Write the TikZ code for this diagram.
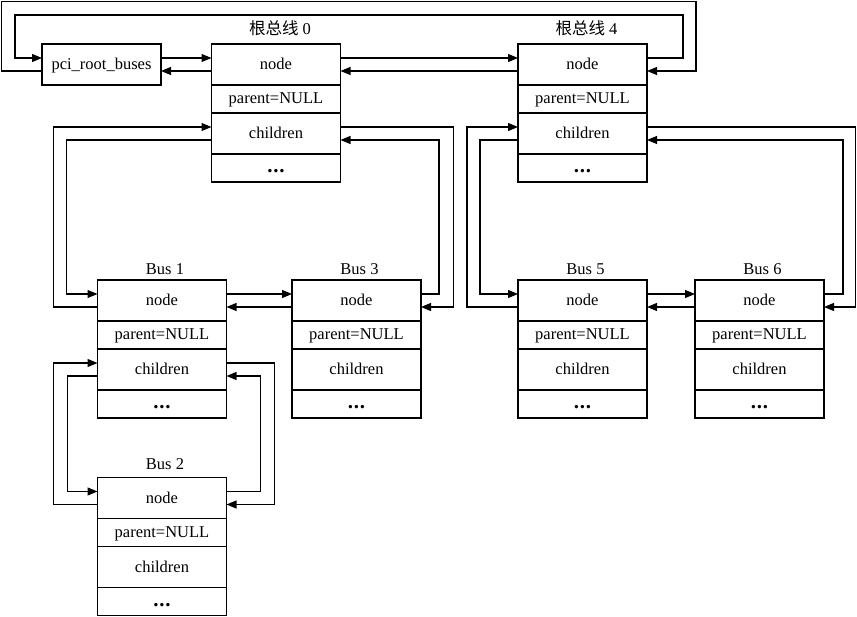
\documentclass[tikz,border=0pt]{standalone}
\usepackage{fontspec}
\setmainfont{Liberation Serif}
\newfontfamily\cjk{Noto Sans CJK SC}
\usetikzlibrary{arrows.meta,calc}

\tikzset{
  fld/.style={draw, line width=1.1pt, minimum width=129pt, inner sep=0pt, outer sep=0pt,
    text height=12.5pt, text depth=2.5pt, font=\fontsize{16.5}{20}\selectfont},
  ttl/.style={anchor=base, inner sep=0pt, font=\fontsize{16.5}{20}\selectfont},
  arr/.style={line width=1.1pt, -{Triangle[length=10pt,width=8pt]}},
}

% one bus structure: four stacked fields
\newcommand\busstruct[3]{%
  \node[fld, minimum height=41pt, anchor=north] (#1n) at (#2,#3) {node};
  \node[fld, minimum height=28pt, anchor=north] (#1p) at (#1n.south) {parent=NULL};
  \node[fld, minimum height=41pt, anchor=north] (#1c) at (#1p.south) {children};
  \node[fld, minimum height=28pt, anchor=north] (#1d) at (#1c.south)
    {\fontsize{21}{20}\selectfont\bfseries .\kern0.8pt.\kern0.8pt.};
}

\begin{document}
\begin{tikzpicture}[x=1pt, y=-1pt]
\useasboundingbox (0,0) rectangle (857,617);

% list head
\node[fld, minimum width=119pt, minimum height=41pt, anchor=north] (pci) at (101.5,44) {pci\_root\_buses};

% root buses
\busstruct{r0}{276}{44}
\busstruct{r4}{582.5}{44}
\node[ttl] (r0t) at ($(r0n.north)+(4,-9)$) {{\cjk 根总线} 0};
\node[ttl] (r4t) at ($(r4n.north)+(4,-9)$) {{\cjk 根总线} 4};

% child buses
\busstruct{b1}{162}{280}
\busstruct{b3}{356.5}{280}
\busstruct{b5}{582.5}{280}
\busstruct{b6}{759.5}{280}
\busstruct{b2}{162}{477.5}
\node[ttl] (b1t) at ($(b1n.north)+(3,-5)$) {Bus 1};
\node[ttl] (b3t) at ($(b3n.north)+(3,-5)$) {Bus 3};
\node[ttl] (b5t) at ($(b5n.north)+(3,-5)$) {Bus 5};
\node[ttl] (b6t) at ($(b6n.north)+(3,-5)$) {Bus 6};
\node[ttl] (b2t) at ($(b2n.north)+(3,-7.5)$) {Bus 2};

% corners of the two loops closing the root list
\coordinate (oA) at (1.5,1.5);
\coordinate (oB) at (696,1.5);
\coordinate (iA) at (683,15);
\coordinate (iB) at (15,15);

% root bus list
\draw[arr] ($(pci.north east)+(0,14)$) -- ($(r0n.north west)+(0,14)$);
\draw[arr] ($(r0n.north west)+(0,27)$) -- ($(pci.north east)+(0,27)$);
\draw[arr] ($(r0n.north east)+(0,14)$) -- ($(r4n.north west)+(0,14)$);
\draw[arr] ($(r4n.north west)+(0,27)$) -- ($(r0n.north east)+(0,27)$);
\draw[arr] ($(pci.north west)+(0,27)$) -| (oA) -- (oB) |- ($(r4n.north east)+(0,27)$);
\draw[arr] ($(r4n.north east)+(0,14)$) -| (iA) -- (iB) |- ($(pci.north west)+(0,14)$);

% children of root bus 0
\draw[arr] ($(r0c.north west)+(0,27)$) -- ++(-145,0) |- ($(b1n.north west)+(0,14)$);
\draw[arr] ($(b1n.north west)+(0,27)$) -- ++(-44,0) |- ($(r0c.north west)+(0,14)$);
\draw[arr] ($(r0c.north east)+(0,14)$) -- ++(113,0) |- ($(b3n.north east)+(0,27)$);
\draw[arr] ($(b3n.north east)+(0,14)$) -- ++(18,0) |- ($(r0c.north east)+(0,27)$);
\draw[arr] ($(b1n.north east)+(0,14)$) -- ($(b3n.north west)+(0,14)$);
\draw[arr] ($(b3n.north west)+(0,27)$) -- ($(b1n.north east)+(0,27)$);

% children of bus 1
\draw[arr] ($(b1c.north west)+(0,27)$) -- ++(-30,0) |- ($(b2n.north west)+(0,14)$);
\draw[arr] ($(b2n.north west)+(0,27)$) -- ++(-44,0) |- ($(b1c.north west)+(0,14)$);
\draw[arr] ($(b1c.north east)+(0,14)$) -- ++(48,0) |- ($(b2n.north east)+(0,27)$);
\draw[arr] ($(b2n.north east)+(0,14)$) -- ++(34,0) |- ($(b1c.north east)+(0,27)$);

% children of root bus 4
\draw[arr] ($(r4c.north west)+(0,27)$) -- ++(-38,0) |- ($(b5n.north west)+(0,14)$);
\draw[arr] ($(b5n.north west)+(0,27)$) -- ++(-51,0) |- ($(r4c.north west)+(0,14)$);
\draw[arr] ($(r4c.north east)+(0,14)$) -- ++(208.5,0) |- ($(b6n.north east)+(0,27)$);
\draw[arr] ($(b6n.north east)+(0,14)$) -- ++(19,0) |- ($(r4c.north east)+(0,27)$);
\draw[arr] ($(b5n.north east)+(0,14)$) -- ($(b6n.north west)+(0,14)$);
\draw[arr] ($(b6n.north west)+(0,27)$) -- ($(b5n.north east)+(0,27)$);
\end{tikzpicture}
\end{document}
